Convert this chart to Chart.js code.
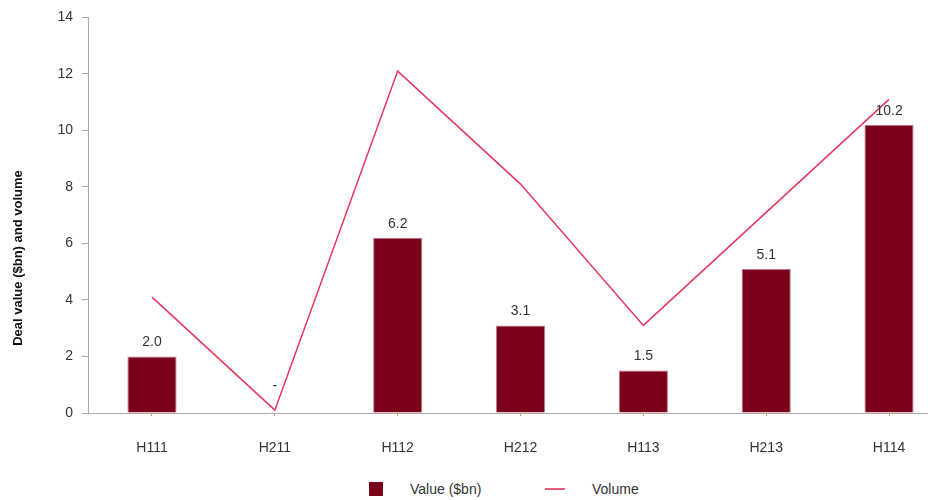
<!DOCTYPE html>
<html>
<head>
<meta charset="utf-8">
<script src="https://cdn.jsdelivr.net/npm/chart.js@4"></script>
<style>
  html, body { margin: 0; padding: 0; background: #fff; }
  #wrap { position: relative; width: 933px; height: 500px; font-family: "Liberation Sans", Arial, sans-serif; color: #333; }
  #box { position: absolute; left: 0; top: 0; width: 933px; height: 470px; }
  #legend { position: absolute; top: 480px; left: 0; width: 933px; height: 20px; font-size: 14px; }
  .sw { position: absolute; }
  .lt { position: absolute; top: 0; line-height: 18px; }
</style>
</head>
<body>
<div id="wrap">
  <div id="box"><canvas id="c"></canvas></div>
  <div id="legend">
    <div class="sw" style="left:369px; top:2px; width:14px; height:14px; background:#7b0019;"></div>
    <div class="lt" style="left:410px;">Value ($bn)</div>
    <div class="sw" style="left:545px; top:8px; width:20px; height:2px; background:#ee5a7a;"></div>
    <div class="lt" style="left:592px;">Volume</div>
  </div>
</div>
<script>
const categories = ["H111", "H211", "H112", "H212", "H113", "H213", "H114"];
const valueBn = [2.0, 0, 6.2, 3.1, 1.5, 5.1, 10.2];
const volume = [4.1, 0.1, 12.1, 8.1, 3.1, 7.1, 11.1];
const yTicks = [0, 2, 4, 6, 8, 10, 12, 14];
const yTitle = "Deal value ($bn) and volume";

const axisColor = "#b3a79e";
const textColor = "#333333";
const font = { family: "'Liberation Sans', Arial, sans-serif", size: 14 };

const barLabels = {
  id: "barLabels",
  afterDatasetsDraw(chart) {
    const ctx = chart.ctx;
    const meta = chart.getDatasetMeta(0);
    ctx.save();
    ctx.font = "14px 'Liberation Sans', Arial, sans-serif";
    ctx.fillStyle = textColor;
    ctx.textAlign = "center";
    ctx.textBaseline = "middle";
    meta.data.forEach((bar, i) => {
      const v = valueBn[i];
      const txt = v === 0 ? "-" : v.toFixed(1);
      const off = v === 0 ? 27 : 14;
      ctx.fillText(txt, bar.x, bar.y - off);
    });
    ctx.restore();
  }
};

const yTitlePlugin = {
  id: "yTitlePlugin",
  afterDraw(chart) {
    const ctx = chart.ctx;
    ctx.save();
    ctx.translate(18, 258);
    ctx.rotate(-Math.PI / 2);
    ctx.font = "bold 13px 'Liberation Sans', Arial, sans-serif";
    ctx.fillStyle = "#111";
    ctx.textAlign = "center";
    ctx.textBaseline = "middle";
    ctx.fillText(yTitle, 0, 0);
    ctx.restore();
  }
};

new Chart(document.getElementById("c"), {
  type: "bar",
  data: {
    datasets: [
      {
        type: "bar",
        label: "Value ($bn)",
        data: valueBn.map((v, i) => ({ x: i, y: v })),
        backgroundColor: "#7b0019",
        borderColor: "rgba(170,90,110,0.8)",
        borderWidth: 1,
        barPercentage: 0.4,
        categoryPercentage: 1.0,
        order: 2
      },
      {
        type: "line",
        label: "Volume",
        data: volume.map((v, i) => ({ x: i, y: v })),
        borderColor: "#e8365d",
        borderWidth: 1.5,
        pointRadius: 0,
        fill: false,
        tension: 0,
        order: 1
      }
    ]
  },
  options: {
    responsive: true,
    maintainAspectRatio: false,
    animation: false,
    layout: { padding: { top: 17, right: 6, left: 0, bottom: 0 } },
    plugins: { legend: { display: false }, tooltip: { enabled: false } },
    scales: {
      x: {
        type: "linear",
        offset: false,
        min: -0.521,
        max: 6.309,
        afterBuildTicks(scale) { scale.ticks = categories.map((c, i) => ({ value: i })); },
        afterFit(scale) { scale.height = 57; },
        ticks: {
          callback: (v) => categories[v],
          font: font, color: textColor, padding: 24, maxRotation: 0, autoSkip: false
        },
        grid: { drawOnChartArea: false, offset: false, color: axisColor, tickLength: 3 },
        border: { color: axisColor, width: 1 }
      },
      y: {
        min: 0,
        max: 14,
        afterBuildTicks(scale) { scale.ticks = yTicks.map(v => ({ value: v })); },
        afterFit(scale) { scale.width = 88; },
        ticks: { font: font, color: textColor, padding: 9 },
        grid: { drawOnChartArea: false, color: axisColor, tickLength: 6 },
        border: { color: axisColor, width: 1 }
      }
    }
  },
  plugins: [barLabels, yTitlePlugin]
});
</script>
</body>
</html>
